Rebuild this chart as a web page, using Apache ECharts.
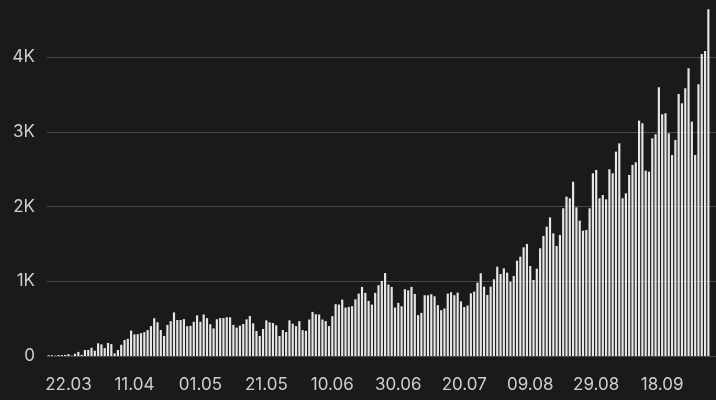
<!DOCTYPE html>
<html>
<head>
<meta charset="utf-8">
<script src="https://cdn.jsdelivr.net/npm/echarts@6/dist/echarts.min.js"></script>
<style>
  html, body { margin: 0; padding: 0; background: #1a1a1a; }
  #chart { width: 716px; height: 400px; }
</style>
</head>
<body>
<div id="chart"></div>
<script>
// First day of the series and number of days (16.03 – 02.10)
const startDate = [2020, 2, 16];
const dayCount = 201;

// Daily values
const dailyValues = [
  10, 10, 5, 12, 12, 15, 25, 5, 30, 55,
  15, 80, 80, 110, 70, 170, 155, 105, 175, 160,
  35, 80, 150, 215, 230, 340, 290, 292, 305, 318,
  347, 400, 505, 452, 347, 267, 416, 467, 583, 481,
  481, 494, 398, 403, 458, 543, 458, 556, 507, 425,
  369, 491, 507, 507, 518, 518, 416, 380, 406, 428,
  490, 535, 437, 334, 268, 361, 477, 450, 441, 410,
  268, 348, 321, 477, 432, 400, 466, 346, 337, 488,
  590, 559, 555, 488, 466, 400, 533, 693, 688, 755,
  648, 657, 666, 759, 835, 924, 844, 737, 688, 844,
  946, 1004, 1110, 955, 924, 648, 710, 666, 893, 879,
  924, 830, 546, 577, 813, 813, 826, 799, 680, 613,
  635, 835, 853, 813, 848, 730, 655, 675, 838, 861,
  981, 1106, 928, 816, 928, 1026, 1195, 1097, 1173, 1115,
  995, 1070, 1275, 1329, 1454, 1499, 1204, 1017, 1168, 1441,
  1606, 1730, 1855, 1641, 1472, 1619, 1976, 2132, 2110, 2332,
  1989, 1811, 1677, 1686, 1976, 2444, 2489, 2110, 2154, 2096,
  2498, 2444, 2734, 2845, 2110, 2176, 2422, 2556, 2591, 3149,
  3113, 2480, 2466, 2912, 2966, 3595, 3233, 3247, 2979, 2689,
  2890, 3506, 3381, 3582, 3849, 3135, 2689, 3635, 4041, 4081,
  4638
];

// Axis labels
const yTickValues = [0, 1000, 2000, 3000, 4000];
const yTickLabels = ['0', '1K', '2K', '3K', '4K'];
const yAxisTop = 4000;
const yBarsMax = 4700;
const xLabelFirst = 6;   // 22.03
const xLabelStep = 20;

// Categories (dates dd.mm)
const categories = [];
for (let i = 0; i < dayCount; i++) {
  const d = new Date(Date.UTC(startDate[0], startDate[1], startDate[2] + i));
  const dd = String(d.getUTCDate()).padStart(2, '0');
  const mm = String(d.getUTCMonth() + 1).padStart(2, '0');
  categories.push(dd + '.' + mm);
}

const chart = echarts.init(document.getElementById('chart'), null, { renderer: 'canvas' });
const labelFont = { color: '#cfcfcf', fontSize: 17, fontFamily: 'Inter' };
const baseY = 356;
const pxPerUnit = 0.07475;

chart.setOption({
  backgroundColor: '#1a1a1a',
  animation: false,
  grid: [
    { left: 47, right: 6, top: baseY - yBarsMax * pxPerUnit, bottom: 400 - baseY },
    { left: 47, right: 0, top: baseY - yAxisTop * pxPerUnit, bottom: 400 - baseY }
  ],
  xAxis: [
    {
      type: 'category',
      gridIndex: 0,
      data: categories,
      axisLine: { show: false },
      axisTick: { show: false },
      axisLabel: Object.assign({
        margin: 20,
        interval: (idx) => idx >= xLabelFirst && (idx - xLabelFirst) % xLabelStep === 0
      }, labelFont),
      splitLine: { show: false }
    },
    {
      type: 'value',
      gridIndex: 1,
      show: false,
      min: 0,
      max: 1
    }
  ],
  yAxis: [
    {
      type: 'value',
      gridIndex: 0,
      min: 0,
      max: yBarsMax,
      show: false,
      splitLine: { show: false }
    },
    {
      type: 'value',
      gridIndex: 1,
      min: 0,
      max: yAxisTop,
      interval: 1000,
      axisLine: { show: false },
      axisTick: { show: false },
      axisLabel: Object.assign({
        margin: 12,
        formatter: (v) => {
          const k = yTickValues.indexOf(v);
          return k >= 0 ? yTickLabels[k] : '';
        }
      }, labelFont),
      splitLine: { show: true, lineStyle: { color: '#4a4a4a', width: 1 } }
    }
  ],
  series: [
    {
      type: 'bar',
      xAxisIndex: 0,
      yAxisIndex: 0,
      data: dailyValues,
      barCategoryGap: '34%',
      itemStyle: { color: '#e6e6e6' },
      z: 3
    }
  ]
});
</script>
</body>
</html>
